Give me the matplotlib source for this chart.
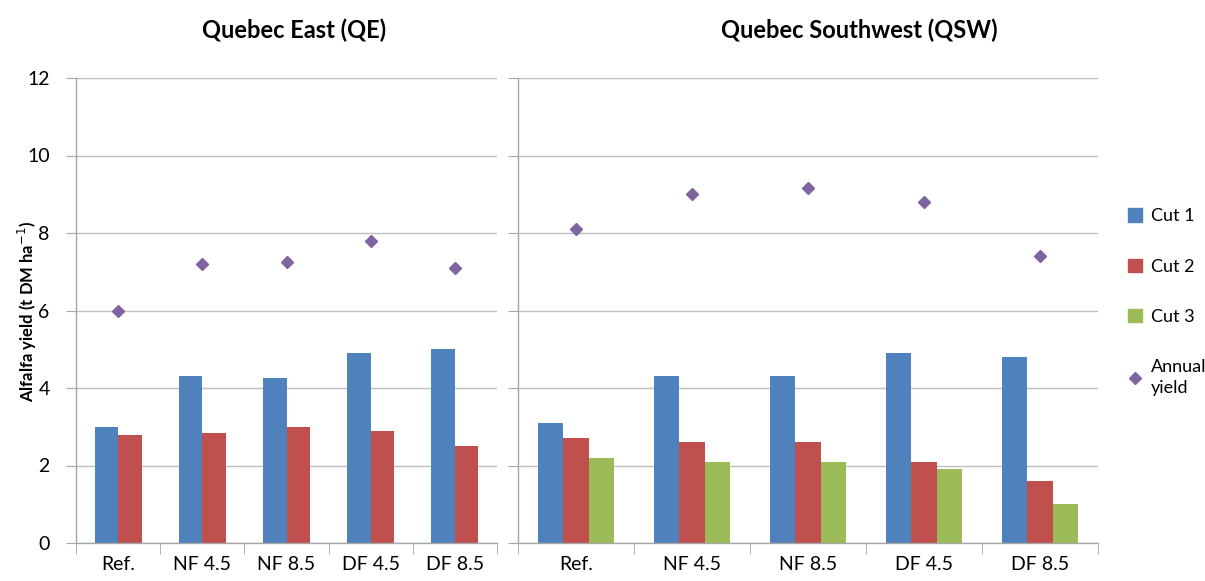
import numpy as np
import matplotlib.pyplot as plt
from matplotlib.lines import Line2D
from matplotlib.patches import Patch

plt.rcParams['font.family'] = ['Lato', 'DejaVu Sans']

categories = ['Ref.', 'NF 4.5', 'NF 8.5', 'DF 4.5', 'DF 8.5']

# Quebec East (QE)
qe_cut1 = [3.0, 4.3, 4.25, 4.9, 5.0]
qe_cut2 = [2.8, 2.85, 3.0, 2.9, 2.5]
qe_annual = [6.0, 7.2, 7.25, 7.8, 7.1]

# Quebec Southwest (QSW)
qsw_cut1 = [3.1, 4.3, 4.3, 4.9, 4.8]
qsw_cut2 = [2.7, 2.6, 2.6, 2.1, 1.6]
qsw_cut3 = [2.2, 2.1, 2.1, 1.9, 1.0]
qsw_annual = [8.1, 9.0, 9.15, 8.8, 7.4]

c_blue = '#4F81BD'
c_red = '#C0504D'
c_green = '#9BBB59'
c_purple = '#8064A2'
c_grid = '#BFBFBF'
c_spine = '#A6A6A6'

fig = plt.figure(figsize=(12.05, 5.81), dpi=100)
ax1 = fig.add_axes([76/1205, 1-543/581, 421/1205, 465/581])
ax2 = fig.add_axes([518/1205, 1-543/581, 580/1205, 465/581])

x = np.arange(len(categories))


def style_axis(ax, show_labels):
    ax.set_xlim(-0.5, len(categories) - 0.5)
    ax.set_ylim(0, 12)
    ax.set_yticks(np.arange(0, 13, 2))
    ax.yaxis.grid(True, color=c_grid, linewidth=1)
    ax.set_axisbelow(True)
    for s in ['top', 'right']:
        ax.spines[s].set_visible(False)
    for s in ['left', 'bottom']:
        ax.spines[s].set_color(c_spine)
        ax.spines[s].set_linewidth(1)
    ax.set_xticks(x)
    ax.set_xticklabels(categories, fontsize=14)
    ax.tick_params(axis='x', length=0, pad=9)
    ax.set_xticks(np.arange(-0.5, len(categories)), minor=True)
    ax.tick_params(axis='x', which='minor', length=8, color=c_spine, direction='out')
    ax.tick_params(axis='y', length=7, color=c_spine, direction='out', labelsize=14, pad=12)
    if not show_labels:
        ax.tick_params(axis='y', labelleft=False)


# left panel: two cuts
w1 = 0.28
ax1.bar(x - w1/2, qe_cut1, w1, color=c_blue)
ax1.bar(x + w1/2, qe_cut2, w1, color=c_red)
ax1.plot(x, qe_annual, 'D', color=c_purple, markersize=6, linestyle='none')
style_axis(ax1, True)

# right panel: three cuts
w2 = 0.22
ax2.bar(x - w2, qsw_cut1, w2, color=c_blue)
ax2.bar(x, qsw_cut2, w2, color=c_red)
ax2.bar(x + w2, qsw_cut3, w2, color=c_green)
ax2.plot(x, qsw_annual, 'D', color=c_purple, markersize=6, linestyle='none')
style_axis(ax2, False)

fig.text(27/1205, 1-312/581, 'Alfalfa yield (t DM ha$^{-1}$)', fontsize=12, fontweight='bold',
         rotation=90, ha='center', va='center')

fig.text(294/1205, 1-30/581, 'Quebec East (QE)', fontsize=17, fontweight='bold', ha='center', va='center')
fig.text(859/1205, 1-30/581, 'Quebec Southwest (QSW)', fontsize=17, fontweight='bold', ha='center', va='center')

handles = [
    Patch(color=c_blue),
    Patch(color=c_red),
    Patch(color=c_green),
    Line2D([], [], marker='D', color=c_purple, linestyle='none', markersize=6),
]
labels = ['Cut 1', 'Cut 2', 'Cut 3', 'Annual\nyield']
leg = fig.legend(handles, labels, loc='center left', bbox_to_anchor=(1112/1205, 1-302/581),
                 frameon=False, fontsize=13, labelspacing=1.9, handlelength=0.75,
                 handleheight=0.75, handletextpad=0.5)
for t in leg.get_texts():
    t.set_linespacing(1.35)

fig.savefig('out.png', dpi=100)
